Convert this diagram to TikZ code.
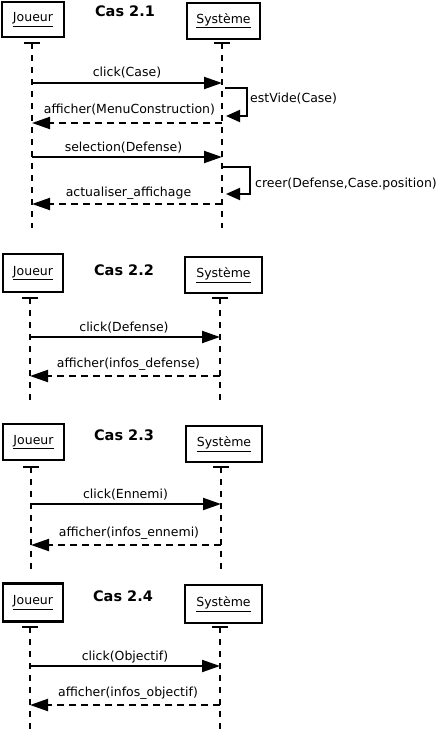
\documentclass[tikz,border=0pt]{standalone}
\usepackage{fontspec}
\setmainfont{DejaVu Sans}
\usetikzlibrary{arrows.meta}
\tikzset{
  actor/.style={draw, line width=2.2pt, inner sep=0pt, font=\fontsize{12.5}{14}\selectfont},
  ttl/.style={font=\fontsize{14.5}{17}\bfseries\selectfont, anchor=base, inner sep=0pt},
  lbl/.style={font=\fontsize{12.5}{14}\selectfont, anchor=base, inner sep=0pt},
  slbl/.style={font=\fontsize{12.5}{14}\selectfont, anchor=base west, inner sep=0pt},
  life/.style={line width=1.3pt, dash pattern=on 6pt off 6pt},
  tick/.style={line width=2.2pt},
  msg/.style={line width=2pt, -{Triangle[length=18pt,width=12pt]}},
  ret/.style={line width=2pt, dash pattern=on 7pt off 5pt, -{Triangle[length=18pt,width=12pt]}},
  selfm/.style={line width=2pt, -{Triangle[length=14pt,width=12pt]}},
}
\begin{document}
\begin{tikzpicture}[x=1pt,y=-1pt]
\useasboundingbox[fill=white] (0,0) rectangle (441,738);

% ===== Cas 2.1 =====
\node[actor, minimum width=62pt, minimum height=35pt] (J1) at (33,19.5) {\underline{Joueur}};
\node[actor, minimum width=73pt, minimum height=36pt] (S1) at (223.5,21) {\underline{Système}};
\node[ttl] (T1) at (125,17) {Cas 2.1};
\coordinate (J1t) at (32,43); \coordinate (J1e) at (32,228);
\coordinate (S1t) at (222,43); \coordinate (S1e) at (222,228);
\draw[life] (J1t) -- (J1e);
\draw[life] (S1t) -- (S1e);
\draw[tick] ([xshift=-8pt]J1t) -- ([xshift=8pt]J1t);
\draw[tick] ([xshift=-8pt]S1t) -- ([xshift=8pt]S1t);
\coordinate (J1a) at (32,83); \coordinate (S1a) at (222,83);
\draw[msg] (J1a) -- (S1a);
\node[lbl] (L1a) at (127,77) {click(Case)};
\coordinate (E1a) at (225,88); \coordinate (E1b) at (247,88);
\coordinate (E1c) at (247,116); \coordinate (E1d) at (226,116);
\draw[selfm] (E1a) -- (E1b) -- (E1c) -- (E1d);
\node[slbl] (L1b) at (250,103) {estVide(Case)};
\coordinate (J1b) at (32,123); \coordinate (S1b) at (222,123);
\draw[ret] (S1b) -- (J1b);
\node[lbl] (L1c) at (129.5,114) {afficher(MenuConstruction)};
\coordinate (J1c) at (32,157); \coordinate (S1c) at (222,157);
\draw[msg] (J1c) -- (S1c);
\node[lbl] (L1d) at (123.5,152) {selection(Defense)};
\coordinate (C1a) at (222,167); \coordinate (C1b) at (250,167);
\coordinate (C1c) at (250,194); \coordinate (C1d) at (226,194);
\draw[selfm] (C1a) -- (C1b) -- (C1c) -- (C1d);
\node[slbl] (L1e) at (255,187) {creer(Defense,Case.position)};
\coordinate (J1d) at (32,204); \coordinate (S1d) at (222,204);
\draw[ret] (S1d) -- (J1d);
\node[lbl] (L1f) at (128.5,196) {actualiser\_affichage};

% ===== Cas 2.2 =====
\node[actor, minimum width=60pt, minimum height=38pt] (J2) at (33,273) {\underline{Joueur}};
\node[actor, minimum width=77pt, minimum height=36pt] (S2) at (223.5,275) {\underline{Système}};
\node[ttl] (T2) at (124,275) {Cas 2.2};
\coordinate (J2t) at (30,298); \coordinate (J2e) at (30,400);
\coordinate (S2t) at (220,298); \coordinate (S2e) at (220,400);
\draw[life] (J2t) -- (J2e);
\draw[life] (S2t) -- (S2e);
\draw[tick] ([xshift=-8pt]J2t) -- ([xshift=8pt]J2t);
\draw[tick] ([xshift=-8pt]S2t) -- ([xshift=8pt]S2t);
\coordinate (J2a) at (30,337); \coordinate (S2a) at (220,337);
\draw[msg] (J2a) -- (S2a);
\node[lbl] (L2a) at (124,331) {click(Defense)};
\coordinate (J2b) at (30,376); \coordinate (S2b) at (220,376);
\draw[ret] (S2b) -- (J2b);
\node[lbl] (L2b) at (128.5,367) {afficher(infos\_defense)};

% ===== Cas 2.3 =====
\node[actor, minimum width=61pt, minimum height=36pt] (J3) at (33.5,442) {\underline{Joueur}};
\node[actor, minimum width=76pt, minimum height=36pt] (S3) at (224,444) {\underline{Système}};
\node[ttl] (T3) at (124,440) {Cas 2.3};
\coordinate (J3t) at (31,467); \coordinate (J3e) at (31,570);
\coordinate (S3t) at (221,467); \coordinate (S3e) at (221,570);
\draw[life] (J3t) -- (J3e);
\draw[life] (S3t) -- (S3e);
\draw[tick] ([xshift=-8pt]J3t) -- ([xshift=8pt]J3t);
\draw[tick] ([xshift=-8pt]S3t) -- ([xshift=8pt]S3t);
\coordinate (J3a) at (31,504); \coordinate (S3a) at (221,504);
\draw[msg] (J3a) -- (S3a);
\node[lbl] (L3a) at (125.5,498) {click(Ennemi)};
\coordinate (J3b) at (31,545); \coordinate (S3b) at (221,545);
\draw[ret] (S3b) -- (J3b);
\node[lbl] (L3b) at (129,536) {afficher(infos\_ennemi)};

% ===== Cas 2.4 =====
\node[actor, minimum width=60pt, minimum height=38pt] (J4) at (33,602.5) {\underline{Joueur}};
\node[actor, minimum width=77pt, minimum height=38pt] (S4) at (223.5,604) {\underline{Système}};
\node[ttl] (T4) at (123,601) {Cas 2.4};
\coordinate (J4t) at (30,627); \coordinate (J4e) at (30,730);
\coordinate (S4t) at (220,627); \coordinate (S4e) at (220,730);
\draw[life] (J4t) -- (J4e);
\draw[life] (S4t) -- (S4e);
\draw[tick] ([xshift=-8pt]J4t) -- ([xshift=8pt]J4t);
\draw[tick] ([xshift=-8pt]S4t) -- ([xshift=8pt]S4t);
\coordinate (J4a) at (30,666); \coordinate (S4a) at (220,666);
\draw[msg] (J4a) -- (S4a);
\node[lbl] (L4a) at (125,660) {click(Objectif)};
\coordinate (J4b) at (30,705); \coordinate (S4b) at (220,705);
\draw[ret] (S4b) -- (J4b);
\node[lbl] (L4b) at (128,696) {afficher(infos\_objectif)};
\end{tikzpicture}
\end{document}
